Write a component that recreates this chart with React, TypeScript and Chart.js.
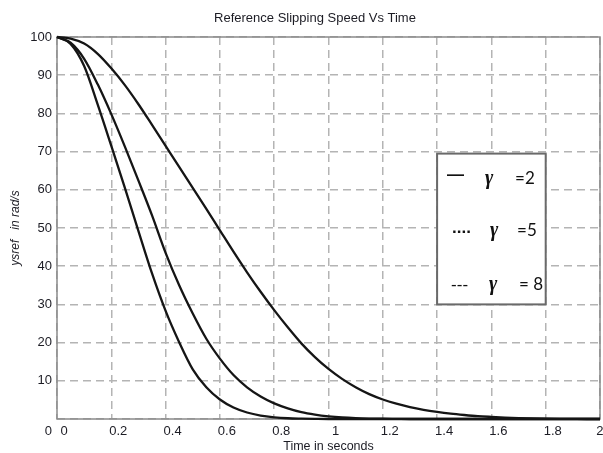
import { useEffect, useRef } from 'react';
import { Chart, registerables } from 'chart.js';

Chart.register(...registerables);

const chartTitle = 'Reference Slipping Speed Vs Time';
const xAxisTitle = 'Time in seconds';
const yAxisTitle = 'ysref   in rad/s';

const timeValues = [
  0, 0.05, 0.1, 0.15, 0.2, 0.25, 0.3, 0.35, 0.4, 0.45,
  0.5, 0.55, 0.6, 0.65, 0.7, 0.75, 0.8, 0.85, 0.9, 0.95,
  1.0, 1.05, 1.1, 1.15, 1.2, 1.25, 1.3, 1.35, 1.4, 1.45,
  1.5, 1.55, 1.6, 1.65, 1.7, 1.75, 1.8, 1.85, 1.9, 1.95, 2.0,
];

const gamma2Values = [
  100, 99.6, 98.3, 95.6, 91.8, 87.4, 82.4, 77, 71.5, 66.0,
  60.5, 55.0, 49.4, 43.8, 38.4, 33.3, 28.5, 24.0, 19.8, 16.2,
  13.1, 10.5, 8.3, 6.5, 5.1, 4.0, 3.1, 2.4, 1.85, 1.4,
  1.05, 0.75, 0.55, 0.38, 0.25, 0.15, 0.08, 0.04, 0.02, 0, 0,
];

const gamma5Values = [
  100, 98.5, 94.3, 87.6, 79.8, 71.3, 62.4, 53.3, 43.5, 35.0,
  27.6, 21.0, 15.8, 11.5, 8.3, 5.9, 4.1, 2.8, 1.8, 1.15,
  0.7, 0.4, 0.22, 0.12, 0.06, 0.03, 0, 0, 0, 0,
  0, 0, 0, 0, 0, 0, 0, 0, 0, 0, 0,
];

const gamma8Values = [
  100, 98.2, 92.4, 82.3, 71.5, 60.5, 49.2, 38.1, 28.3, 20.1,
  13.0, 8.3, 5.1, 3.0, 1.7, 0.9, 0.45, 0.2, 0.1, 0.04,
  0, 0, 0, 0, 0, 0, 0, 0, 0, 0,
  0, 0, 0, 0, 0, 0, 0, 0, 0, 0, 0,
];

const xTickLabels = ['0', '0.2', '0.4', '0.6', '0.8', '1', '1.2', '1.4', '1.6', '1.8', '2\u2007\u2007'];
const yZeroLabel = '0';

const legendMarks = ['\u2014', '....', '---'];
const legendSymbol = '\u03B3';
const legendValues = ['=2', '=5', '= 8'];

const TICK_FONT = { family: '"Liberation Sans", Arial, sans-serif', size: 13 };
const TEXT_COLOR = '#1c1c24';
const LEFT_PAD = 30;

const framePlugin = {
  id: 'frame',
  beforeDatasetsDraw(chart: any) {
    const { ctx, chartArea } = chart;
    ctx.save();
    ctx.strokeStyle = '#8a8a8a';
    ctx.lineWidth = 1.5;
    ctx.strokeRect(chartArea.left, chartArea.top, chartArea.right - chartArea.left, chartArea.bottom - chartArea.top);
    ctx.restore();
  },
  afterDraw(chart: any) {
    const { ctx, chartArea, scales } = chart;
    const xs = scales.x;
    ctx.save();
    ctx.font = `${TICK_FONT.size}px ${TICK_FONT.family}`;
    ctx.fillStyle = TEXT_COLOR;
    ctx.textAlign = 'right';
    ctx.textBaseline = 'middle';
    ctx.fillText(yZeroLabel, chartArea.left - 5, xs.top + 5 + TICK_FONT.size * 0.6);
    ctx.restore();
  },
};

const legendPlugin = {
  id: 'gammaLegend',
  afterDatasetsDraw(chart: any) {
    const { ctx, scales } = chart;
    const xs = scales.x;
    const ys = scales.y;
    const left = xs.getPixelForValue(1.4);
    const right = xs.getPixelForValue(1.8);
    const top = ys.getPixelForValue(70) + 2;
    const bottom = ys.getPixelForValue(30);
    ctx.save();
    ctx.fillStyle = '#ffffff';
    ctx.fillRect(left, top, right - left, bottom - top);
    ctx.strokeStyle = '#6a6a6a';
    ctx.lineWidth = 2;
    ctx.strokeRect(left, top, right - left, bottom - top);

    const markX = [10, 15, 14];
    const markY = [26, 79, 136];
    const markFont = [
      'bold 17px "Liberation Sans", Arial, sans-serif',
      'bold 17px "Liberation Sans", Arial, sans-serif',
      '17px "Liberation Sans", Arial, sans-serif',
    ];
    const symX = [48, 53, 52];
    const valX = [78, 80, 82];
    const baseY = [30, 82, 136];
    ctx.fillStyle = '#111111';
    ctx.textAlign = 'left';
    ctx.textBaseline = 'alphabetic';
    for (let i = 0; i < 3; i++) {
      ctx.font = markFont[i];
      ctx.fillText(legendMarks[i], left + markX[i], top + markY[i]);
      ctx.font = 'italic bold 20px "Liberation Serif", "DejaVu Serif", serif';
      ctx.fillText(legendSymbol, left + symX[i], top + baseY[i]);
      ctx.font = '17px Lato, "Open Sans", sans-serif';
      ctx.fillText(legendValues[i], left + valX[i], top + baseY[i]);
    }
    ctx.restore();
  },
};

function toPoints(values: number[]) {
  return timeValues.map((t, i) => ({ x: t, y: values[i] }));
}

export default function App() {
  const canvasRef = useRef<HTMLCanvasElement | null>(null);

  useEffect(() => {
    const canvas = canvasRef.current;
    if (!canvas) return;
    const lineStyle = {
      borderColor: '#151515',
      borderWidth: 2.3,
      pointRadius: 0,
      fill: false,
      cubicInterpolationMode: 'monotone' as const,
      clip: 3,
    };
    const chart = new Chart(canvas, {
      type: 'line',
      data: {
        datasets: [
          { label: 'γ = 2', data: toPoints(gamma2Values), ...lineStyle },
          { label: 'γ = 5', data: toPoints(gamma5Values), ...lineStyle },
          { label: 'γ = 8', data: toPoints(gamma8Values), ...lineStyle },
        ],
      },
      options: {
        animation: false,
        responsive: false,
        devicePixelRatio: 1,
        layout: { padding: { left: LEFT_PAD, right: 3, top: 0, bottom: 0 } },
        plugins: {
          legend: { display: false },
          tooltip: { enabled: false },
          title: {
            display: true,
            text: chartTitle,
            color: TEXT_COLOR,
            font: { family: '"Liberation Sans", Arial, sans-serif', size: 13, weight: 'normal' },
            padding: { top: 10.2, bottom: 11.2 },
          },
        },
        scales: {
          x: {
            type: 'linear',
            min: 0,
            max: 2,
            ticks: {
              stepSize: 0.2,
              autoSkip: false,
              maxRotation: 0,
              padding: 5,
              labelOffset: 7,
              color: TEXT_COLOR,
              font: TICK_FONT,
              callback: (_v: any, i: number) => xTickLabels[i] ?? '',
            },
            grid: { color: '#b4b4b4', lineWidth: 1.5, drawTicks: false },
            border: { display: false, dash: [8, 5] },
            title: {
              display: true,
              text: xAxisTitle,
              color: TEXT_COLOR,
              font: { family: '"Liberation Sans", Arial, sans-serif', size: 12.5, lineHeight: 1 },
              padding: { top: 0, bottom: 0 },
            },
            afterFit: (s: any) => {
              s.height = 34;
              s.paddingLeft = 0;
              s.paddingRight = 0;
            },
          },
          y: {
            type: 'linear',
            min: 0,
            max: 100,
            ticks: {
              stepSize: 10,
              padding: 5,
              color: TEXT_COLOR,
              font: TICK_FONT,
              callback: (v: any) => (v === 0 ? '' : String(v)),
            },
            grid: { color: '#b4b4b4', lineWidth: 1.5, drawTicks: false },
            border: { display: false, dash: [8, 5] },
            title: {
              display: true,
              text: yAxisTitle,
              color: TEXT_COLOR,
              font: { family: '"Liberation Sans", Arial, sans-serif', size: 12, style: 'italic', lineHeight: 1.1 },
              padding: { top: 9 - LEFT_PAD, bottom: 0 },
            },
            afterFit: (s: any) => {
              s.width = 57 - LEFT_PAD;
              s.paddingTop = 0;
              s.paddingBottom = 0;
            },
          },
        },
      },
      plugins: [framePlugin, legendPlugin],
    });
    return () => chart.destroy();
  }, []);

  return (
    <div style={{ position: 'fixed', left: 0, top: 0, width: 603, height: 453, background: '#fff' }}>
      <canvas ref={canvasRef} width={603} height={453} style={{ display: 'block' }} />
    </div>
  );
}
